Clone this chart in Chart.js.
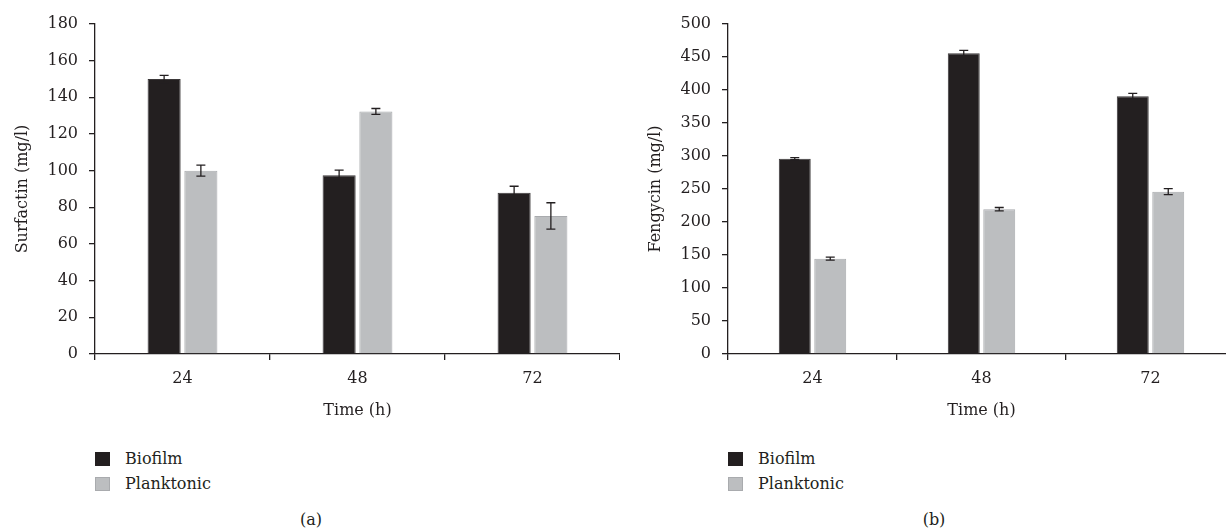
<!DOCTYPE html>
<html>
<head>
<meta charset="utf-8">
<script src="https://cdn.jsdelivr.net/npm/chart.js@4.4.1/dist/chart.umd.min.js"></script>
<style>
  html, body { margin: 0; padding: 0; background: #fff; width: 1226px; height: 530px; overflow: hidden; position: relative; }
  .cv { position: absolute; top: 0; }
  .lg { position: absolute; font-family: "DejaVu Serif", serif; font-size: 16px; color: #231f20; line-height: 20px; }
  .box { position: absolute; width: 15px; height: 14px; box-sizing: border-box; }
  .cap { position: absolute; font-family: "DejaVu Serif", serif; font-size: 16px; color: #231f20; transform: translateX(-50%); }
</style>
</head>
<body>
<div class="cv" style="left:0px;width:620px;height:421px;"><canvas id="c1"></canvas></div>
<div class="cv" style="left:633px;width:602px;height:421px;"><canvas id="c2"></canvas></div>

<div class="box" style="left:95px;top:452px;background:#231f20;"></div>
<div class="lg" style="left:125px;top:449px;">Biofilm</div>
<div class="box" style="left:95px;top:477px;background:#bcbec0;border:1px solid #a9abae;"></div>
<div class="lg" style="left:125px;top:474px;">Planktonic</div>

<div class="box" style="left:728px;top:452px;background:#231f20;"></div>
<div class="lg" style="left:758px;top:449px;">Biofilm</div>
<div class="box" style="left:728px;top:477px;background:#bcbec0;border:1px solid #a9abae;"></div>
<div class="lg" style="left:758px;top:474px;">Planktonic</div>

<div class="cap" style="left:311px;top:510px;">(a)</div>
<div class="cap" style="left:934px;top:510px;">(b)</div>

<script>
// ---- data ----
const categories = ["24", "48", "72"];
const seriesNames = ["Biofilm", "Planktonic"];

const surfactinBiofilm = [150, 97.5, 88];
const surfactinBiofilmErr = [2, 2.8, 3.5];
const surfactinPlanktonic = [100, 132.3, 75.3];
const surfactinPlanktonicErr = [3, 1.6, 7.2];

const fengycinBiofilm = [296, 455.5, 390.5];
const fengycinBiofilmErr = [1.5, 4.5, 4.5];
const fengycinPlanktonic = [144.5, 219.5, 246];
const fengycinPlanktonicErr = [2.3, 2.5, 4.5];

const surfactinTicks = { min: 0, max: 180, step: 20 };
const fengycinTicks = { min: 0, max: 500, step: 50 };

// ---- styles ----
const INK = '#231f20';
const GREY = '#bcbec0';
const FONT = { family: '"DejaVu Serif", serif', size: 16 };

const errorBars = {
  id: 'errorBars',
  afterDatasetsDraw(chart) {
    const ctx = chart.ctx;
    const yScale = chart.scales.y;
    ctx.save();
    ctx.strokeStyle = INK;
    ctx.lineWidth = 1.3;
    chart.data.datasets.forEach((ds, di) => {
      const meta = chart.getDatasetMeta(di);
      meta.data.forEach((bar, i) => {
        const v = ds.data[i], e = ds.errors[i];
        const x = bar.x;
        const yt = yScale.getPixelForValue(v + e);
        const yb = yScale.getPixelForValue(v - e);
        const cap = 4.5;
        ctx.beginPath();
        ctx.moveTo(x, yt); ctx.lineTo(x, yb);
        ctx.moveTo(x - cap, yt); ctx.lineTo(x + cap, yt);
        ctx.moveTo(x - cap, yb); ctx.lineTo(x + cap, yb);
        ctx.stroke();
      });
    });
    ctx.restore();
  }
};

function makeChart(id, yTitle, b, be, p, pe, tk, titlePad) {
  return new Chart(document.getElementById(id), {
    type: 'bar',
    data: {
      labels: categories,
      datasets: [
        { label: seriesNames[0], data: b, errors: be, backgroundColor: INK, borderColor: '#3b3839', borderWidth: 1 },
        { label: seriesNames[1], data: p, errors: pe, backgroundColor: GREY, borderColor: '#a9abae', borderWidth: 1 }
      ]
    },
    options: {
      responsive: true,
      maintainAspectRatio: false,
      animation: false,
      categoryPercentage: 0.42,
      barPercentage: 0.9,
      layout: { padding: { top: 24, right: 0, left: 0, bottom: 0 } },
      plugins: { legend: { display: false }, tooltip: { enabled: false } },
      scales: {
        x: {
          offset: true,
          grid: { offset: true, drawOnChartArea: false, drawTicks: true, tickLength: 6, color: INK, lineWidth: 1.3 },
          border: { color: INK, width: 1.3 },
          ticks: { color: INK, font: FONT, padding: 9 },
          title: { display: true, text: 'Time (h)', color: INK, font: FONT, padding: { top: 0, bottom: 1 } },
          afterFit(s) { s.height = 67; }
        },
        y: {
          min: tk.min, max: tk.max,
          grid: { drawOnChartArea: false, drawTicks: true, tickLength: 6, color: INK, lineWidth: 1.3 },
          border: { color: INK, width: 1.3 },
          ticks: { stepSize: tk.step, color: INK, font: FONT, padding: 11 },
          title: { display: true, text: yTitle, color: INK, font: FONT, padding: { top: titlePad, bottom: 0 } },
          afterFit(s) { s.width = 95; }
        }
      }
    },
    plugins: [errorBars]
  });
}

makeChart('c1', 'Surfactin (mg/l)', surfactinBiofilm, surfactinBiofilmErr, surfactinPlanktonic, surfactinPlanktonicErr, surfactinTicks, 13);
makeChart('c2', 'Fengycin (mg/l)', fengycinBiofilm, fengycinBiofilmErr, fengycinPlanktonic, fengycinPlanktonicErr, fengycinTicks, 13);
</script>
</body>
</html>
